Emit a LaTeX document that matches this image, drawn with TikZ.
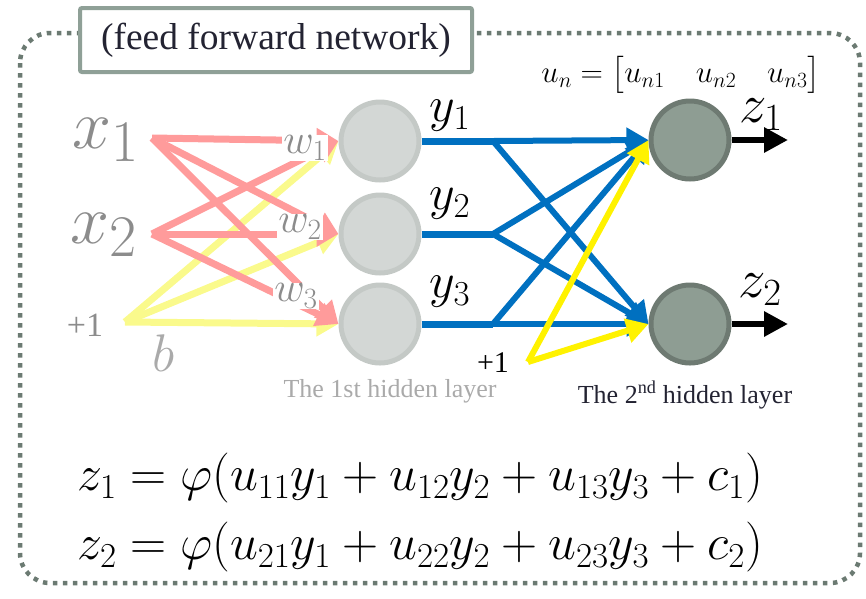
\RequirePackage{fix-cm}
\documentclass[tikz,border=0pt]{standalone}
\usepackage{amsmath,amssymb}
\usepackage{fontspec}
\newfontfamily\tnr{Liberation Serif}
\usepackage{tikz}
\usetikzlibrary{shapes,arrows.meta,positioning,calc}

\definecolor{framecol}{RGB}{107,122,114}
\definecolor{titlecol}{RGB}{143,160,151}
\definecolor{hidfill}{RGB}{211,215,213}
\definecolor{hidline}{RGB}{196,201,198}
\definecolor{outfill}{RGB}{142,157,147}
\definecolor{outline}{RGB}{110,122,114}
\definecolor{pinkw}{RGB}{255,155,155}
\definecolor{paleyel}{RGB}{250,250,140}
\definecolor{bluew}{RGB}{0,112,192}
\definecolor{greytxt}{RGB}{140,140,140}
\definecolor{lighttxt}{RGB}{170,170,170}
\definecolor{darktxt}{RGB}{35,35,50}

% input symbol with a large index
\newcommand{\insym}[2]{$#1_{\mbox{\fontsize{59}{60}\selectfont$#2$}}$}

\tikzset{
  framedot/.style={draw=framecol, line width=4.5pt, dash pattern=on 4.5pt off 5.5pt},
  titlebox/.style={draw=titlecol, line width=4pt, fill=white, rounded corners=2pt,
    minimum width=392pt, minimum height=64pt, text=darktxt,
    font=\tnr\fontsize{37.5}{40}\selectfont},
  hid/.style={circle, minimum size=78pt, line width=5pt, draw=hidline, fill=hidfill},
  outn/.style={circle, minimum size=78pt, line width=5pt, draw=outline, fill=outfill},
  warrow/.style={line width=7pt, draw=pinkw, -{Triangle[length=22pt,width=24pt]}},
  barrow/.style={line width=7pt, draw=paleyel, -{Triangle[length=22pt,width=24pt]}},
  yline/.style={line width=7pt, draw=bluew},
  yarrow/.style={line width=6pt, draw=bluew, -{Triangle[length=22pt,width=24pt]}},
  carrow/.style={line width=6pt, draw=yellow, -{Triangle[length=22pt,width=24pt]}},
  oarrow/.style={line width=6pt, draw=black, -{Triangle[length=24pt,width=24pt]}},
  inlab/.style={text=greytxt, anchor=base west, inner sep=0pt, font=\fontsize{70}{72}\selectfont},
  wlab/.style={text=greytxt, fill=white, inner sep=1pt, font=\fontsize{42}{44}\selectfont},
  ylab/.style={fill=white, inner sep=1pt, font=\fontsize{50}{52}\selectfont},
  zlab/.style={font=\fontsize{55}{57}\selectfont},
  eqlab/.style={font=\fontsize{50}{52}\selectfont},
}

\begin{document}
\begin{tikzpicture}[x=1pt,y=-1pt]
\useasboundingbox (0,0) rectangle (866,598);

% outer frame and title
\draw[framedot, rounded corners=30pt] (20,33) rectangle (860,583);
\node[titlebox] (title) at (276,40) {(feed forward network)};

% inputs
\node[inlab] (x1) at (72,148) {\insym{x}{1}};
\node[inlab] (x2) at (70,243) {\insym{x}{2}};
\node[text=greytxt, font=\tnr\fontsize{34}{36}\selectfont] (p1) at (85,325) {+1};
\node[text=lighttxt, font=\fontsize{53}{55}\selectfont] (b) at (164,353) {$b$};
\coordinate (x1s) at (152,138);
\coordinate (x2s) at (152,234);
\coordinate (p1s) at (125,322);

% layers
\node[hid] (h1) at (380,141) {};
\node[hid] (h2) at (380,234) {};
\node[hid] (h3) at (380,324) {};
\node[outn] (z1) at (690,140) {};
\node[outn] (z2) at (690,324) {};

\coordinate (s1) at (493,141);
\coordinate (s2) at (493,234);
\coordinate (s3) at (493,324);
\coordinate (p2s) at (528,362);
\coordinate (o1) at (788,140);
\coordinate (o2) at (788,324);

% first layer weights
\foreach \t in {h1,h2,h3}
  \draw[barrow] (p1s) -- (\t.west);
\foreach \s in {x1s,x2s}
  \foreach \t in {h1,h2,h3}
    \draw[warrow] (\s) -- (\t.west);

% second layer weights
\foreach \i in {1,2,3} {
  \draw[yline] (h\i) -- (s\i);
  \draw[yarrow] (s\i) -- (z1.west);
  \draw[yarrow] (s\i) -- (z2.west);
}
\draw[carrow] (p2s) -- (z1.west);
\draw[carrow] (p2s) -- (z2.west);
\draw[oarrow] (z1) -- (o1);
\draw[oarrow] (z2) -- (o2);

% labels
\node[wlab] (w1) at (305,148) {$w_1$};
\node[wlab] (w2) at (300,227) {$w_2$};
\node[wlab] (w3) at (296,296) {$w_3$};
\node[ylab] (y1) at (450,116) {$y_1$};
\node[ylab] (y2) at (450,204) {$y_2$};
\node[ylab] (y3) at (450,292) {$y_3$};
\node[zlab] (z1l) at (761,115) {$z_1$};
\node[zlab] (z2l) at (760,290) {$z_2$};
\node[inner sep=0pt, font=\tnr\fontsize{30}{32}\selectfont] (p2) at (493,363) {+1};
\node[inner sep=0pt, text=lighttxt, font=\tnr\fontsize{26}{28}\selectfont] (l1) at (390,391) {The 1st hidden layer};
\node[text=darktxt, font=\tnr\fontsize{26}{28}\selectfont] (l2) at (685,395) {The 2\textsuperscript{nd} hidden layer};
\node[font=\fontsize{31}{33}\selectfont] (un) at (681,75) {$u_n=\bigl[u_{n1}\quad u_{n2}\quad u_{n3}\bigr]$};

% equations
\node[eqlab] (e1) at (420,478) {$z_1=\varphi(u_{11}y_1+u_{12}y_2+u_{13}y_3+c_1)$};
\node[eqlab] (e2) at (420,547) {$z_2=\varphi(u_{21}y_1+u_{22}y_2+u_{23}y_3+c_2)$};
\end{tikzpicture}
\end{document}
